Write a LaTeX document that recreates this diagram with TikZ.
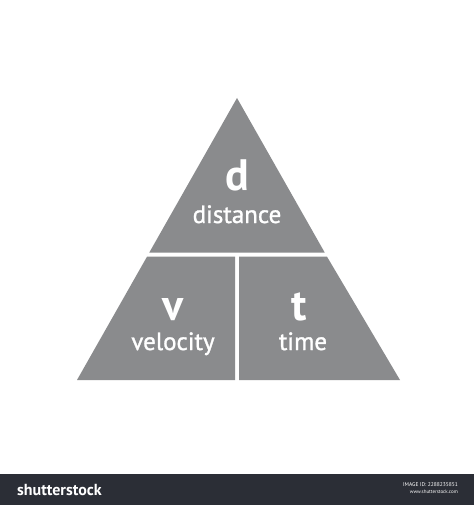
\documentclass[tikz,border=0pt]{standalone}
\usepackage{fontspec}
\setsansfont{PT Sans}
\usepackage{xcolor}
\usetikzlibrary{positioning}
\definecolor{trigray}{RGB}{138,139,141}
\definecolor{bardark}{RGB}{43,46,54}

\begin{document}
\begin{tikzpicture}[x=1pt, y=-1pt, font=\sffamily,
    sym/.style={text=white, font=\sffamily\bfseries\fontsize{44}{44}\selectfont, inner sep=0pt, anchor=base},
    word/.style={text=white, font=\sffamily\fontsize{25}{25}\selectfont, inner sep=0pt, anchor=base},
    foot/.style={text=white, inner sep=0pt}]
	\useasboundingbox (0,0) rectangle (474,505);
	\fill[white] (0,0) rectangle (474,505);
	% the three parts of the triangle
	\fill[trigray] (237,98) -- (324.7,252.5) -- (149.3,252.5) -- cycle;
	\fill[trigray] (147.1,256.5) -- (235,256.5) -- (235,380) -- (77,380) -- cycle;
	\fill[trigray] (239,256.5) -- (326.9,256.5) -- (400,380) -- (239,380) -- cycle;
	\node[sym] (dsym) at (237,190) {d};
	\node[word] (dlabel) at ([yshift=-33pt]dsym.base) {\addfontfeature{FakeBold=1.2}distance};
	\node[sym] (vsym) at (173,320) {v};
	\node[word] (vlabel) at ([yshift=-30pt]vsym.base) {\addfontfeature{FakeBold=1.2}velocity};
	\node[sym] (tsym) at (299,320) {t};
	\node[word] (tlabel) at ([yshift=-30pt,xshift=4pt]tsym.base) {\addfontfeature{FakeBold=1.2}time};
	% footer bar
	\fill[bardark] (0,474) rectangle (474,505);
	\node[foot, anchor=west, font=\sffamily\bfseries\fontsize{16}{16}\selectfont] (logo) at (17,490) {shutterstock};
	\node[foot, anchor=east, font=\sffamily\fontsize{5.5}{5.5}\selectfont] (imgid) at (458,485) {IMAGE ID: 2288235851};
	\node[foot, anchor=north east, font=\sffamily\fontsize{5}{5}\selectfont] (site) at ([yshift=-3pt]imgid.south east) {www.shutterstock.com};
\end{tikzpicture}
\end{document}
